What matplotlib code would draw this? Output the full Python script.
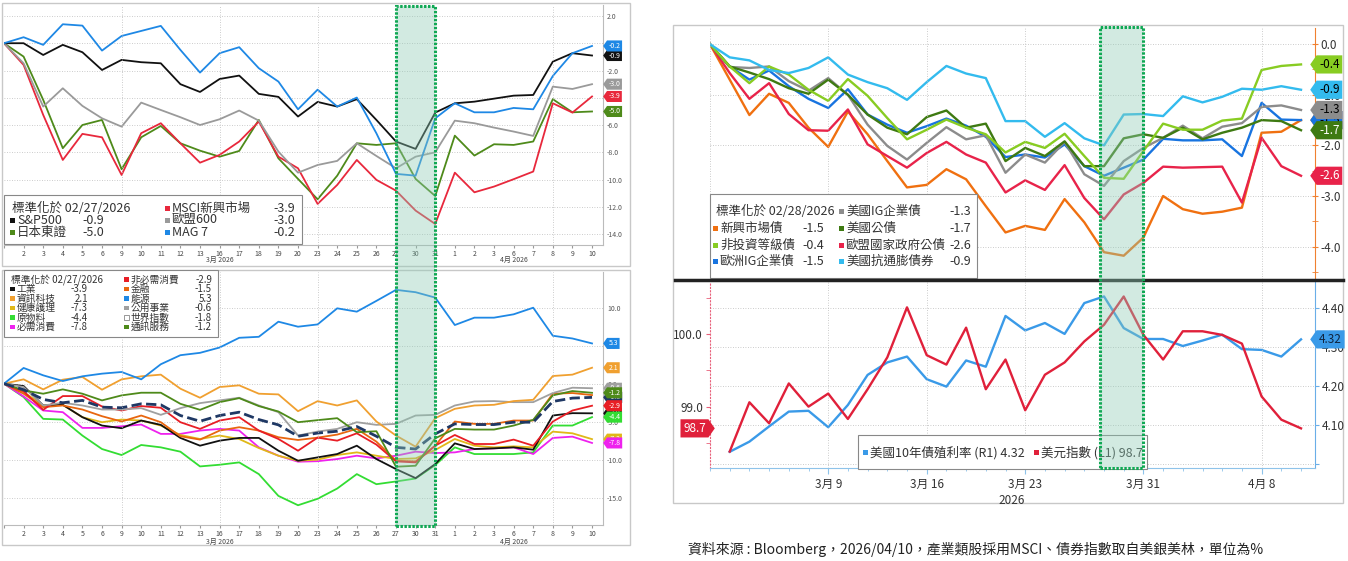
import matplotlib
matplotlib.use('Agg')
import matplotlib.pyplot as plt
from matplotlib.patches import Rectangle
from matplotlib.lines import Line2D
from matplotlib.path import Path
from matplotlib.transforms import blended_transform_factory

plt.rcParams['font.family'] = ['Noto Sans CJK TC', 'DejaVu Sans']
plt.rcParams['axes.unicode_minus'] = False

# ---- 資料 (2/27 ~ 4/10, 交易日) ----
day_labels = ['', '2', '3', '4', '5', '6', '9', '10', '11', '12', '13', '16', '17', '18', '19', '20',
              '23', '24', '25', '26', '27', '30', '31', '1', '2', '3', '6', '7', '8', '9', '10']
xs = list(range(len(day_labels)))
grid_days = [6, 11, 16, 22, 28]

# 左上: 各地股市
mag7 = [0, 0.44, -0.12, 1.39, 1.29, -0.54, 0.53, 0.9, 1.27, -0.49, -2.15, -0.73, -0.29, -1.83, -2.81, -4.84,
        -3.4, -4.64, -3.98, -6.6, -9.57, -9.7, -5.5, -4.4, -5.06, -5.06, -4.74, -4.84, -2.4, -0.73, -0.2]
sp500 = [0, 0, -0.86, -0.12, -0.66, -1.96, -1.22, -1.39, -1.47, -3.0, -3.57, -2.62, -2.37, -3.71, -3.93, -5.37,
         -4.3, -4.64, -4.1, -5.62, -7.2, -7.74, -5.08, -4.4, -4.28, -4.06, -3.84, -3.79, -1.35, -0.73, -0.9]
stoxx600 = [0, -1.47, -4.64, -3.3, -4.59, -5.5, -6.11, -4.35, -4.89, -5.42, -5.99, -5.57, -4.93, -5.67, -7.94, -9.48,
            -8.92, -8.62, -7.33, -8.26, -9.16, -8.31, -7.99, -5.67, -5.86, -6.18, -6.47, -6.79, -3.18, -3.35, -3.0]
msci_em = [0, -1.59, -5.25, -8.55, -6.64, -6.89, -9.65, -6.59, -5.86, -7.33, -8.75, -8.18, -7.2, -5.74, -8.31, -9.16,
           -11.77, -10.38, -8.55, -10.01, -10.8, -12.26, -13.24, -9.48, -10.92, -10.5, -9.96, -9.4, -4.4, -5.08, -3.9]
topix = [0, -0.98, -4.15, -7.69, -5.99, -5.62, -9.23, -6.89, -6.06, -7.33, -7.87, -8.31, -7.89, -5.62, -8.43, -9.94,
         -11.43, -9.7, -7.33, -7.45, -7.33, -9.94, -11.19, -6.77, -8.23, -7.4, -7.45, -7.2, -4.1, -5.06, -5.0]

# 左下: 產業類股
energy = [0, 2.07, 1.1, 0.35, 0.97, 1.32, 1.54, 0.57, 2.56, 3.75, 4.06, 4.76, 6.04, 6.17, 8.16, 7.5,
          7.8, 9.92, 9.48, 10.9, 12.35, 12.04, 11.33, 7.72, 8.69, 8.69, 9.13, 10.0, 6.31, 5.95, 5.3]
infotech = [0, 0.57, -0.75, 0.53, 0.88, -0.79, 0.57, 0.97, 1.19, -0.66, -1.85, -0.44, -0.22, -1.32, -1.41, -3.62,
            -2.3, -2.87, -2.2, -4.98, -6.83, -8.29, -4.54, -3.31, -2.87, -2.78, -2.29, -2.12, 1.01, 1.19, 2.1]
utilities = [0, -0.44, -2.87, -2.51, -2.87, -3.4, -3.4, -3.22, -4.1, -3.22, -2.56, -2.2, -1.85, -2.87, -3.75, -6.83,
             -6.3, -5.95, -5.07, -5.42, -5.29, -4.19, -4.1, -2.87, -2.34, -2.29, -2.43, -2.43, -1.23, -0.53, -0.6]
comm = [0, -0.88, -1.32, -0.75, -1.32, -2.2, -1.54, -1.19, -1.19, -2.65, -3.44, -2.43, -1.9, -2.95, -3.66, -5.07,
        -4.8, -4.54, -6.39, -6.26, -10.93, -10.8, -7.19, -5.95, -6.04, -6.04, -5.51, -4.76, -1.54, -0.97, -1.2]
world = [0, -0.79, -2.07, -2.51, -2.2, -3.09, -3.17, -2.65, -2.78, -4.19, -4.94, -4.19, -3.75, -4.72, -5.42, -6.92,
         -6.5, -6.26, -5.64, -6.92, -8.38, -8.6, -6.61, -5.29, -5.38, -5.38, -5.07, -5.07, -2.34, -1.9, -1.8]
consdisc = [0, -1.01, -3.44, -1.63, -1.63, -3.0, -3.53, -2.95, -3.17, -5.07, -5.95, -4.85, -4.41, -6.17, -7.28, -8.82,
            -7.1, -7.5, -6.53, -8.02, -10.23, -10.36, -8.16, -6.75, -7.94, -7.94, -7.36, -8.16, -4.98, -3.53, -2.9]
financials = [0, -1.32, -3.09, -2.87, -3.4, -4.28, -4.98, -4.19, -5.07, -6.92, -7.36, -6.17, -5.73, -6.17, -7.05, -7.41,
              -7.1, -6.7, -5.95, -7.63, -10.14, -10.23, -8.16, -4.98, -5.29, -5.29, -4.85, -4.85, -1.32, -1.23, -1.5]
health = [0, -1.1, -2.87, -2.78, -4.41, -5.07, -4.72, -4.85, -5.51, -6.75, -7.28, -6.83, -7.28, -8.47, -9.48, -10.14,
          -10.0, -9.39, -9.04, -9.48, -9.92, -9.83, -8.73, -7.28, -8.16, -8.38, -8.25, -8.38, -6.31, -6.53, -7.3]
staples = [0, -1.68, -3.53, -3.75, -5.82, -5.82, -5.6, -5.38, -6.61, -6.61, -6.17, -5.95, -6.17, -8.38, -9.48, -10.27,
           -10.2, -9.92, -9.48, -9.83, -9.48, -8.95, -9.13, -9.04, -8.6, -8.51, -8.38, -9.26, -7.14, -6.97, -7.8]
industrials = [0, -0.31, -2.87, -2.78, -4.41, -5.51, -5.86, -4.85, -5.42, -7.14, -8.16, -7.5, -7.14, -7.14, -8.82, -10.14,
               -9.7, -9.26, -8.16, -9.92, -11.24, -12.43, -10.58, -7.85, -8.6, -8.51, -8.38, -8.69, -4.19, -3.88, -3.9]
materials = [0, -1.76, -4.63, -4.72, -6.83, -8.6, -9.39, -8.07, -8.38, -8.95, -10.89, -10.67, -10.36, -11.9, -14.77, -16.0,
             -15.15, -13.8, -11.9, -13.23, -12.87, -12.48, -10.71, -8.38, -9.26, -9.26, -9.26, -9.04, -5.51, -5.51, -4.4]

# 右上: 債券指數
em_debt = [0, -0.70, -1.40, -0.98, -1.16, -1.65, -2.03, -1.33, -1.78, -2.31, -2.83, -2.78, -2.47, -2.67, -3.2, -3.72,
           -3.59, -3.67, -3.06, -3.52, -4.11, -4.18, -3.82, -3.0, -3.26, -3.35, -3.31, -3.23, -1.75, -1.73, -1.5]
eu_gov = [0, -0.57, -1.08, -0.77, -1.38, -1.70, -1.71, -1.29, -1.98, -2.21, -2.44, -2.15, -1.93, -2.18, -2.34, -2.93,
          -2.69, -2.88, -2.39, -3.04, -3.46, -2.97, -2.74, -2.42, -2.44, -2.43, -2.42, -3.13, -1.85, -2.41, -2.6]
high_yield = [0, -0.44, -0.77, -0.44, -0.60, -0.90, -1.12, -0.69, -1.02, -1.46, -1.88, -1.69, -1.49, -1.65, -1.78, -2.14,
              -1.93, -2.05, -1.77, -2.21, -2.64, -2.66, -2.11, -1.57, -1.69, -1.69, -1.51, -1.47, -0.51, -0.43, -0.4]
eu_ig = [0, -0.44, -0.70, -0.52, -0.83, -1.08, -1.26, -0.89, -1.39, -1.59, -1.75, -1.62, -1.47, -1.61, -1.83, -2.23,
         -2.18, -2.24, -1.98, -2.41, -2.6, -2.44, -2.28, -1.87, -1.9, -1.9, -1.88, -2.21, -1.16, -1.49, -1.5]
us_ig = [0, -0.45, -0.47, -0.44, -0.73, -0.92, -0.67, -1.0, -1.59, -2.01, -2.28, -1.95, -1.64, -1.88, -1.80, -2.54,
         -2.18, -2.34, -1.93, -2.57, -2.8, -2.31, -2.05, -1.85, -1.61, -1.86, -1.63, -1.56, -1.24, -1.21, -1.3]
ust = [0, -0.44, -0.56, -0.69, -0.87, -0.98, -0.70, -1.0, -1.39, -1.65, -1.78, -1.44, -1.31, -1.65, -1.57, -2.31,
       -2.05, -2.21, -1.92, -2.41, -2.41, -1.86, -1.78, -1.85, -1.65, -1.88, -1.75, -1.65, -1.5, -1.52, -1.7]
tips = [0, -0.26, -0.32, -0.51, -0.57, -0.47, -0.26, -0.60, -0.75, -0.87, -1.10, -0.75, -0.43, -0.58, -0.67, -1.52,
        -1.52, -1.83, -1.56, -1.86, -2.0, -1.39, -1.38, -1.42, -1.03, -1.15, -1.04, -0.88, -0.9, -0.83, -0.9]

# 右下: 美元指數 / 美國10年債殖利率 (3/2 起)
xs_b = xs[1:]
dxy = [98.38, 99.06, 98.77, 99.32, 99.0, 99.18, 98.83, 99.24, 99.68, 100.37, 99.71, 99.58, 100.09, 99.24, 99.65,
       98.95, 99.44, 99.61, 99.9, 100.13, 100.52, 99.99, 99.65, 100.04, 100.04, 99.99, 99.87, 99.14, 98.82, 98.7]
ust10y = [4.032, 4.058, 4.097, 4.135, 4.137, 4.095, 4.152, 4.229, 4.261, 4.276, 4.218, 4.199, 4.266, 4.250, 4.380,
          4.343, 4.362, 4.334, 4.413, 4.430, 4.349, 4.321, 4.321, 4.303, 4.317, 4.332, 4.295, 4.293, 4.276, 4.32]
right_ticks = [6, 11, 16, 22, 28]
right_tick_labels = ['3月 9', '3月 16', '3月 23', '3月 31', '4月 8']

W, H = 1348, 561
fig = plt.figure(figsize=(W / 100, H / 100), dpi=100)


def px_axes(x0, y0, x1, y1):
    ax = fig.add_axes([x0 / W, 1 - y1 / H, (x1 - x0) / W, (y1 - y0) / H])
    ax.set_facecolor('none')
    return ax


def overlay(z):
    ov = fig.add_axes([0, 0, 1, 1], zorder=z)
    ov.set_xlim(0, W)
    ov.set_ylim(H, 0)
    ov.axis('off')
    return ov


# Bloomberg 風格的數值標籤 (一端尖角)
def point_left(x0, y0, width, height, mutation_size):
    pad = 0.22 * mutation_size
    x0, y0, w, h = x0 - pad, y0 - pad, width + 2 * pad, height + 2 * pad
    t = h * 0.35
    return Path([(x0 - t, y0 + h / 2), (x0, y0 + h), (x0 + w, y0 + h), (x0 + w, y0), (x0, y0),
                 (x0 - t, y0 + h / 2)], closed=True)


def point_right(x0, y0, width, height, mutation_size):
    pad = 0.22 * mutation_size
    x0, y0, w, h = x0 - pad, y0 - pad, width + 2 * pad, height + 2 * pad
    t = h * 0.35
    return Path([(x0 + w + t, y0 + h / 2), (x0 + w, y0 + h), (x0, y0 + h), (x0, y0), (x0 + w, y0),
                 (x0 + w + t, y0 + h / 2)], closed=True)


def tag(ax, v, s, fc, tc='white', fs=5, side='right', dx=4):
    if side == 'right':
        xy, off, ha, bs = (1, v), (dx, 0), 'left', point_left
    else:
        xy, off, ha, bs = (0, v), (-dx, 0), 'right', point_right
    ax.annotate(s, xy=xy, xycoords=ax.get_yaxis_transform(), xytext=off, textcoords='offset points',
                ha=ha, va='center', fontsize=fs, color=tc, annotation_clip=False, zorder=6,
                bbox=dict(boxstyle=bs, fc=fc, ec='none'))


GRID = dict(ls=(0, (1, 2)), color='#BBBBBB', lw=0.6)

# 外框
bg = overlay(-5)
for (x0, y0, x1, y1) in [(2, 3, 630, 266), (2, 270, 630, 545), (673, 25, 1343, 503)]:
    bg.add_patch(Rectangle((x0, y0), x1 - x0, y1 - y0, fc='white', ec='#C8C8C8', lw=1))


def style_left(ax, yticks, ylabels, month_y):
    for s in ['top', 'left']:
        ax.spines[s].set_visible(False)
    for s in ['right', 'bottom']:
        ax.spines[s].set_color('#BBBBBB')
        ax.spines[s].set_linewidth(0.8)
    ax.yaxis.tick_right()
    ax.set_yticks(yticks)
    ax.set_yticklabels(ylabels)
    ax.tick_params(axis='y', length=0, labelsize=5, labelcolor='#555555', pad=3)
    ax.set_xticks(xs)
    ax.set_xticklabels(day_labels)
    ax.tick_params(axis='x', length=2, labelsize=5, color='#999999', labelcolor='#444444', pad=1.5)
    ax.grid(axis='y', **GRID)
    for g in grid_days:
        ax.axvline(g, **GRID)
    ax.text(11, month_y, '3月 2026', transform=ax.get_xaxis_transform(), fontsize=5, color='#444444',
            ha='center', va='top')
    ax.text(26, month_y, '4月 2026', transform=ax.get_xaxis_transform(), fontsize=5, color='#444444',
            ha='center', va='top')


# ---- 左上 ----
ax1 = px_axes(4, 5, 603, 245)
top_series = [
    (topix, '#4E8A1A', '-5.0'),
    (msci_em, '#E8283C', '-3.9'),
    (stoxx600, '#9A9A9A', '-3.0'),
    (sp500, '#111111', '-0.9'),
    (mag7, '#1E88E5', '-0.2'),
]
for vals, c, lab in top_series:
    ax1.plot(xs, vals, color=c, lw=1.3)
ax1.set_xlim(0, 30.56)
ax1.set_ylim(-14.78, 2.8)
style_left(ax1, [2, 0, -2, -4, -6, -8, -10, -12, -14],
           ['2.0', '0.0', '-2.0', '-4.0', '-6.0', '-8.0', '-10.0', '-12.0', '-14.0'], -0.045)
for vals, c, lab in top_series:
    tag(ax1, vals[-1], lab, c)

# ---- 左下 ----
ax2 = px_axes(4, 272, 603, 525)
sector_series = [
    (materials, '#33DD33', '-', '-4.4'),
    (staples, '#EE22EE', '-', '-7.8'),
    (health, '#E0B818', '-', '-7.3'),
    (industrials, '#111111', '-', '-3.9'),
    (financials, '#E8660F', '-', '-1.5'),
    (consdisc, '#E81E25', '-', '-2.9'),
    (utilities, '#A0A0A0', '-', '-0.6'),
    (comm, '#4E8A1A', '-', '-1.2'),
    (infotech, '#F0A030', '-', '2.1'),
    (energy, '#1E88E5', '-', '5.3'),
    (world, '#1F3864', '--', '-1.8'),
]
for vals, c, ls, lab in sector_series:
    ax2.plot(xs, vals, color=c, lw=2.0 if ls == '--' else 1.3, ls=ls)
ax2.set_xlim(0, 30.56)
ax2.set_ylim(-18.6, 14.7)
style_left(ax2, [10, 5, 0, -5, -10, -15], ['10.0', '5.0', '0.0', '-5.0', '-10.0', '-15.0'], -0.05)
tag_order = [6, 10, 3, 5, 7, 0, 2, 1, 8, 9]
for i in tag_order:
    vals, c, ls, lab = sector_series[i]
    tag(ax2, vals[-1], lab, c)

# ---- 右上 ----
ax3 = px_axes(710, 28, 1315, 279)
bond_series = [
    (em_debt, '#F07010', '-1.5', 'black'),
    (eu_ig, '#1874E0', '-1.5', 'black'),
    (eu_gov, '#E8234A', '-2.6', 'white'),
    (us_ig, '#8C8C8C', '-1.3', 'black'),
    (ust, '#3E7A12', '-1.7', 'white'),
    (high_yield, '#88CC22', '-0.4', 'black'),
    (tips, '#33BBEE', '-0.9', 'black'),
]
for vals, c, lab, tc in bond_series:
    ax3.plot(xs, vals, color=c, lw=1.7)
ax3.set_xlim(0, 30.71)
ax3.set_ylim(-4.64, 0.32)
for s in ['top', 'left', 'bottom']:
    ax3.spines[s].set_visible(False)
ax3.spines['right'].set_color('#F08030')
ax3.yaxis.tick_right()
ax3.set_yticks([0, -1, -2, -3, -4])
ax3.set_yticklabels(['0.0', '-1.0', '-2.0', '-3.0', '-4.0'])
ax3.set_yticks([-0.5, -1.5, -2.5, -3.5, -4.5], minor=True)
ax3.tick_params(axis='y', which='both', direction='inout', length=4, color='#F08030',
                labelsize=8.5, labelcolor='#333333', pad=2)
ax3.set_xticks([])
ax3.grid(axis='y', **GRID)
for g in [0] + right_ticks:
    ax3.axvline(g, **GRID)
for vals, c, lab, tc in bond_series:
    if lab == '-1.5':
        tag(ax3, vals[-1], lab, c, tc=tc, fs=8.5, dx=3)
for vals, c, lab, tc in bond_series:
    if lab != '-1.5':
        tag(ax3, vals[-1], lab, c, tc=tc, fs=8.5, dx=3)

# ---- 右下 ----
ax4 = px_axes(710, 282, 1315, 468)
ax5 = ax4.twinx()
ax5.set_facecolor('none')
ax4.set_zorder(ax5.get_zorder() + 1)
ax5.plot(xs_b, ust10y, color='#3A9AE8', lw=1.7)
ax4.plot(xs_b, dxy, color='#E0203A', lw=1.7)
ax4.set_xlim(0, 30.71)
ax4.set_ylim(98.153, 100.72)
ax5.set_ylim(3.9905, 4.467)
for a in (ax4, ax5):
    a.spines['top'].set_visible(False)
ax4.spines['right'].set_visible(False)
ax4.spines['left'].set_color('#E8607A')
ax4.spines['left'].set_linestyle((0, (1, 2)))
ax4.spines['bottom'].set_color('#8EC3EA')
ax5.spines['left'].set_visible(False)
ax5.spines['bottom'].set_visible(False)
ax5.spines['right'].set_color('#6AAEE8')
ax4.set_yticks([99.0, 100.0])
ax4.set_yticklabels(['99.0', '100.0'])
ax4.set_yticks([98.5, 99.5, 100.5], minor=True)
ax4.tick_params(axis='y', which='both', length=3, color='#E8607A', labelsize=8.5, labelcolor='#333333', pad=2)
ax5.set_yticks([4.0, 4.1, 4.2, 4.3, 4.4])
ax5.set_yticklabels(['', '4.10', '4.20', '4.30', '4.40'])
ax5.tick_params(axis='y', length=3, color='#6AAEE8', labelsize=8.5, labelcolor='#333333', pad=2)
ax5.grid(axis='y', **GRID)
for g in right_ticks:
    ax5.axvline(g, **GRID)
ax4.set_xticks(right_ticks)
ax4.set_xticklabels(right_tick_labels)
ax4.set_xticks(xs, minor=True)
ax4.tick_params(axis='x', which='major', length=4, color='#8EC3EA', labelsize=8.5, labelcolor='#333333', pad=3)
ax4.tick_params(axis='x', which='minor', length=2.5, color='#8EC3EA')
ax4.text(15.3, -0.14, '2026', transform=ax4.get_xaxis_transform(), fontsize=8.5, color='#333333',
         ha='center', va='top')
tag(ax5, ust10y[-1], '4.32', '#3A9AE8', tc='#10243E', fs=8.5, dx=3)
tag(ax4, dxy[-1], '98.7', '#E0203A', tc='white', fs=8.5, side='left', dx=3)

# ---- 圖例 ----
mid = overlay(10)
mid.add_line(Line2D([675, 1343], [280, 280], color='#222222', lw=2.5))


def legend_box(x0, y0, x1, y1):
    mid.add_patch(Rectangle((x0, y0), x1 - x0, y1 - y0, fc='white', ec='#888888', lw=0.8))


def leg_item(x, y, color, name, val, val_x, fs, sq=5, hollow=False):
    if hollow:
        mid.add_patch(Rectangle((x, y - sq / 2), sq, sq, fc='white', ec='#888888', lw=0.6))
    else:
        mid.add_patch(Rectangle((x, y - sq / 2), sq, sq, fc=color, ec='none'))
    mid.text(x + sq + 2, y, name, fontsize=fs, color='#333333', ha='left', va='center')
    if val is not None:
        mid.text(val_x, y, val, fontsize=fs, color='#333333', ha='right', va='center')


# 左上圖例
legend_box(4, 195, 302, 244)
mid.text(12, 208, '標準化於 02/27/2026', fontsize=9, color='#333333', ha='left', va='center')
leg_item(10, 220, '#111111', 'S&P500', '-0.9', 104, 9)
leg_item(10, 232, '#4E8A1A', '日本東證', '-5.0', 104, 9)
leg_item(165, 208, '#E8283C', 'MSCI新興市場', '-3.9', 295, 9)
leg_item(165, 220, '#9A9A9A', '歐盟600', '-3.0', 295, 9)
leg_item(165, 232, '#1E88E5', 'MAG 7', '-0.2', 295, 9)

# 左下圖例
legend_box(4, 270, 218, 337)
mid.text(11, 279.5, '標準化於 02/27/2026', fontsize=7, color='#333333', ha='left', va='center')
col0 = [('工業', '-3.9', '#111111'), ('資訊科技', '2.1', '#F0A030'), ('健康護理', '-7.3', '#E0B818'),
        ('原物料', '-4.4', '#33DD33'), ('必需消費', '-7.8', '#EE22EE')]
col1 = [('非必需消費', '-2.9', '#E81E25'), ('金融', '-1.5', '#E8660F'), ('能源', '5.3', '#1E88E5'),
        ('公用事業', '-0.6', '#A0A0A0'), ('世界指數', '-1.8', None), ('通訊服務', '-1.2', '#4E8A1A')]
row_y = [279.5, 289, 298.5, 308, 317.5, 327]
for (nm, v, c), y in zip(col0, row_y[1:]):
    leg_item(10, y, c, nm, v, 88, 7, sq=4.5)
for (nm, v, c), y in zip(col1, row_y):
    leg_item(124, y, c, nm, v, 212, 7, sq=4.5, hollow=c is None)

# 右上圖例
legend_box(710, 194, 977, 278)
mid.text(716, 211.5, '標準化於 02/28/2026', fontsize=9, color='#333333', ha='left', va='center')
rrow = [211.5, 228.5, 245, 261]
for (nm, v, c), y in zip([('新興市場債', '-1.5', '#F07010'), ('非投資等級債', '-0.4', '#88CC22'),
                          ('歐洲IG企業債', '-1.5', '#1874E0')], rrow[1:]):
    leg_item(713, y, c, nm, v, 824, 9)
for (nm, v, c), y in zip([('美國IG企業債', '-1.3', '#8C8C8C'), ('美國公債', '-1.7', '#3E7A12'),
                          ('歐盟國家政府公債', '-2.6', '#E8234A'), ('美國抗通膨債券', '-0.9', '#33BBEE')], rrow):
    leg_item(839, y, c, nm, v, 971, 9)

# 右下圖例
legend_box(858, 435, 1147, 469)
leg_item(863, 452.5, '#3A9AE8', '美國10年債殖利率 (R1) 4.32', None, 0, 9)
leg_item(1034, 452.5, '#E0203A', '美元指數 (L1) 98.7', None, 0, 9)


# ---- 3/27~3/31 區間標示 ----
def shade(ax, x0, x1, y_top, y_bot):
    tr = blended_transform_factory(ax.transData, fig.transFigure)
    yb, yt = 1 - y_bot / H, 1 - y_top / H
    fig.add_artist(Rectangle((x0, yb), x1 - x0, yt - yb, transform=tr, fc='#8FCBB5', alpha=0.4,
                             ec='none', zorder=30))
    fig.add_artist(Rectangle((x0, yb), x1 - x0, yt - yb, transform=tr, fc='none', ec='#10A854',
                             lw=2.2, ls=(0, (0.8, 0.5)), zorder=31))


shade(ax1, 20, 22, 6, 526)
shade(ax3, 19.8, 22, 27, 468)

fig.text(688 / W, 1 - 549 / H, '資料來源 : Bloomberg，2026/04/10，產業類股採用MSCI、債券指數取自美銀美林，單位為%',
         fontsize=10, color='#222222', ha='left', va='center')

fig.savefig('out.png', dpi=100)
